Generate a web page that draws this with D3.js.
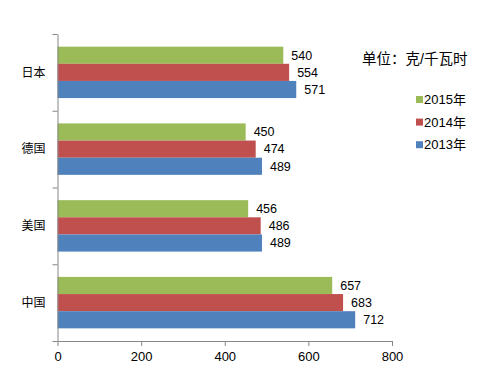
<!DOCTYPE html>
<html>
<head>
<meta charset="utf-8">
<script src="https://cdn.jsdelivr.net/npm/d3@7/dist/d3.min.js"></script>
<style>
  html, body { margin: 0; padding: 0; background: #fff; }
  svg { display: block; font-family: "Liberation Sans", Arial, "Noto Sans CJK SC", sans-serif; }
</style>
</head>
<body>
<svg id="chart" width="483" height="371"></svg>
<script>
    'use strict';

    // data
    var countries = ['日本', '德国', '美国', '中国'];
    var seriesNames = ['2015年', '2014年', '2013年'];
    var values2015 = [540, 450, 456, 657];
    var values2014 = [554, 474, 486, 683];
    var values2013 = [571, 489, 489, 712];
    var xTicks = [0, 200, 400, 600, 800];
    var unitLabel = '单位：克/千瓦时';

(function() {
    var colors = ['#9BBB59', '#C0504D', '#4F81BD'];
    var seriesValues = [values2015, values2014, values2013];
    var axisColor = '#868686';

    var plotLeft = 57.5, plotRight = 392, plotTop = 34, plotBottom = 341;

    var svg = d3.select('#chart');

    var x = d3.scaleLinear()
        .domain([0, 800])
        .range([plotLeft, plotRight]);

    var y = d3.scaleBand()
        .domain(countries)
        .range([plotTop, plotBottom])
        .paddingInner(0.33)
        .paddingOuter(0.165);

    var ySub = d3.scaleBand()
        .domain(seriesNames)
        .range([0, y.bandwidth()]);

    // bars
    var groups = svg.append('g')
        .selectAll('g')
        .data(countries)
        .join('g')
        .attr('transform', function(d) { return 'translate(0,' + y(d) + ')'; });

    groups.each(function(country, ci) {
        var g = d3.select(this);
        seriesNames.forEach(function(s, si) {
            var v = seriesValues[si][ci];
            g.append('rect')
                .attr('x', x(0))
                .attr('y', ySub(s))
                .attr('width', x(v) - x(0))
                .attr('height', ySub.bandwidth())
                .attr('fill', colors[si]);
            g.append('text')
                .attr('x', x(v) + 8)
                .attr('y', ySub(s) + ySub.bandwidth() / 2)
                .attr('dy', '0.35em')
                .attr('font-size', 12.5)
                .attr('fill', '#000')
                .text(v);
        });
    });

    // x axis
    var xAxis = svg.append('g')
        .attr('transform', 'translate(0,' + plotBottom + ')')
        .call(d3.axisBottom(x).tickValues(xTicks).tickSize(5).tickSizeOuter(0).tickPadding(6));
    xAxis.selectAll('path, line').attr('stroke', axisColor);
    xAxis.selectAll('text').attr('font-size', 13).attr('fill', '#000')
        .attr('font-family', '"Liberation Sans", Arial, sans-serif');

    // y axis: ticks on category boundaries
    var yEdge = d3.scaleLinear().domain([0, countries.length]).range([plotTop, plotBottom]);
    var yAxis = svg.append('g')
        .attr('transform', 'translate(' + plotLeft + ',0)')
        .call(d3.axisLeft(yEdge).ticks(countries.length).tickFormat('').tickSize(5).tickSizeOuter(0));
    yAxis.selectAll('path, line').attr('stroke', axisColor);

    svg.append('g')
        .selectAll('text')
        .data(countries)
        .join('text')
        .attr('x', plotLeft - 12)
        .attr('y', function(d) { return y(d) + y.bandwidth() / 2; })
        .attr('dy', '0.35em')
        .attr('text-anchor', 'end')
        .attr('font-size', 12)
        .attr('fill', '#000')
        .text(function(d) { return d; });

    // unit label
    svg.append('text')
        .attr('x', 362)
        .attr('y', 59)
        .attr('dy', '0.35em')
        .attr('font-size', 14.5)
        .attr('fill', '#000')
        .text(unitLabel);

    // legend
    var legend = svg.append('g')
        .selectAll('g')
        .data(seriesNames)
        .join('g')
        .attr('transform', function(d, i) { return 'translate(416,' + (99.5 + i * 22.6) + ')'; });
    legend.append('rect')
        .attr('x', 0)
        .attr('y', -3.5)
        .attr('width', 7)
        .attr('height', 7)
        .attr('fill', function(d, i) { return colors[i]; });
    legend.append('text')
        .attr('x', 8)
        .attr('dy', '0.35em')
        .attr('font-size', 13)
        .attr('fill', '#000')
        .text(function(d) { return d; });
})();
</script>
</body>
</html>
